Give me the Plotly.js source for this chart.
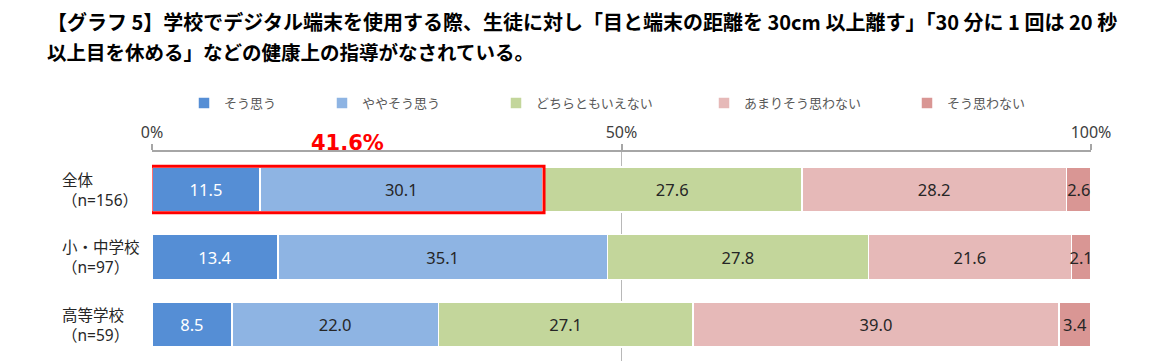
<!DOCTYPE html>
<html>
<head>
<meta charset="utf-8">
<script src="https://cdn.plot.ly/plotly-3.0.1.min.js"></script>
<style>html,body{margin:0;padding:0;background:#fff;}#chart{width:1170px;height:361px;}</style>
</head>
<body>
<div id="chart"></div>
<script>
const categories = ["全体", "小・中学校", "高等学校"];
const sampleSizes = ["（n=156）", "（n=97）", "（n=59）"];
const seriesNames = ["そう思う", "ややそう思う", "どちらともいえない", "あまりそう思わない", "そう思わない"];
const soOmou = [11.5, 13.4, 8.5];
const yayaSoOmou = [30.1, 35.1, 22.0];
const dochiramo = [27.6, 27.8, 27.1];
const amari = [28.2, 21.6, 39.0];
const soOmowanai = [2.6, 2.1, 3.4];
const tickVals = [0, 50, 100];
const tickLabels = ["0%", "50%", "100%"];
const titleLine1 = "【グラフ 5】学校でデジタル端末を使用する際、生徒に対し「目と端末の距離を 30cm 以上離す」「30 分に 1 回は 20 秒";
const titleLine2 = "以上目を休める」などの健康上の指導がなされている。";

const colors = ["#558ED5", "#8EB4E3", "#C3D69B", "#E6B9B8", "#D99694"];
const textColors = ["#ffffff", "#262626", "#262626", "#262626", "#262626"];
const values = [soOmou, yayaSoOmou, dochiramo, amari, soOmowanai];

const legendPx = [184, 322, 496, 704, 907];
const plotL = 152, plotR = 1091, plotT = 152, plotB = 361;
const plotW = plotR - plotL, plotH = plotB - plotT;
const px2x = p => (p - plotL) / plotW;
const py2y = p => (plotB - p) / plotH;

const FONT = "Noto Sans, Noto Sans CJK JP, sans-serif";
const legendNames = ["legend", "legend2", "legend3", "legend4", "legend5"];

const traces = values.map((v, i) => ({
  type: "bar",
  orientation: "h",
  name: seriesNames[i],
  y: categories,
  x: v,
  marker: {color: colors[i], line: {color: "#ffffff", width: 1.5}},
  text: v.map(d => d.toFixed(1)),
  textposition: "inside",
  insidetextanchor: "middle",
  constraintext: "none",
  textangle: 0,
  textfont: {family: FONT, size: 16.5, color: textColors[i]},
  cliponaxis: false,
  hoverinfo: "skip",
  legend: legendNames[i]
}));

const highlight = soOmou[0] + yayaSoOmou[0];

const annotations = [
  {xref: "paper", yref: "paper", x: px2x(45), y: py2y(21), xanchor: "left", yanchor: "middle",
   text: "<b>" + titleLine1 + "</b>", showarrow: false,
   font: {family: "Noto Sans CJK JP, sans-serif", size: 20, color: "#000"}},
  {xref: "paper", yref: "paper", x: px2x(45), y: py2y(52), xanchor: "left", yanchor: "middle",
   text: "<b>" + titleLine2 + "</b>", showarrow: false,
   font: {family: "Noto Sans CJK JP, sans-serif", size: 19.5, color: "#000"}},
  {xref: "x", yref: "paper", x: highlight / 2, y: py2y(143), xanchor: "center", yanchor: "middle",
   text: "<b>" + highlight.toFixed(1) + "%</b>", showarrow: false,
   font: {family: "DejaVu Sans, sans-serif", size: 21, color: "#FF0000"}}
];
categories.forEach((c, i) => {
  annotations.push({
    xref: "paper", yref: "y", x: px2x(60), y: i, xanchor: "left", yanchor: "middle", align: "left",
    text: c + "<br>" + sampleSizes[i], showarrow: false,
    font: {family: FONT, size: 15.5, color: "#262626"}
  });
});

const layout = {
  width: 1170, height: 361,
  margin: {l: plotL, r: 1170 - plotR, t: plotT, b: 0, pad: 0},
  paper_bgcolor: "#ffffff", plot_bgcolor: "#ffffff",
  barmode: "stack",
  bargap: 0.333,
  xaxis: {
    side: "top", range: [0, 100], tickvals: tickVals, ticktext: tickLabels,
    showgrid: true, gridcolor: "#b8b8b8", gridwidth: 1.5,
    showline: true, linecolor: "#a6a6a6", linewidth: 2,
    ticks: "outside", ticklen: 6, tickcolor: "#a6a6a6", tickwidth: 2,
    tickfont: {family: FONT, size: 16, color: "#404040"},
    zeroline: false, fixedrange: true
  },
  yaxis: {
    type: "category", range: [2.54, -0.556], showticklabels: false,
    showgrid: false, zeroline: false, showline: false, fixedrange: true
  },
  shapes: [{
    type: "rect", xref: "x", yref: "y", x0: -0.1, x1: highlight + 0.15, y0: -0.345, y1: 0.345,
    line: {color: "#FF0000", width: 3}, fillcolor: "rgba(0,0,0,0)", layer: "above"
  }],
  annotations: annotations,
  showlegend: true
};
legendNames.forEach((ln, i) => {
  layout[ln] = {
    orientation: "h", x: px2x(legendPx[i]), y: py2y(103), xanchor: "left", yanchor: "middle",
    bgcolor: "rgba(0,0,0,0)", font: {family: FONT, size: 13, color: "#595959"},
    itemwidth: 30, traceorder: "normal"
  };
});

Plotly.newPlot("chart", traces, layout, {displayModeBar: false, staticPlot: true});
</script>
</body>
</html>
